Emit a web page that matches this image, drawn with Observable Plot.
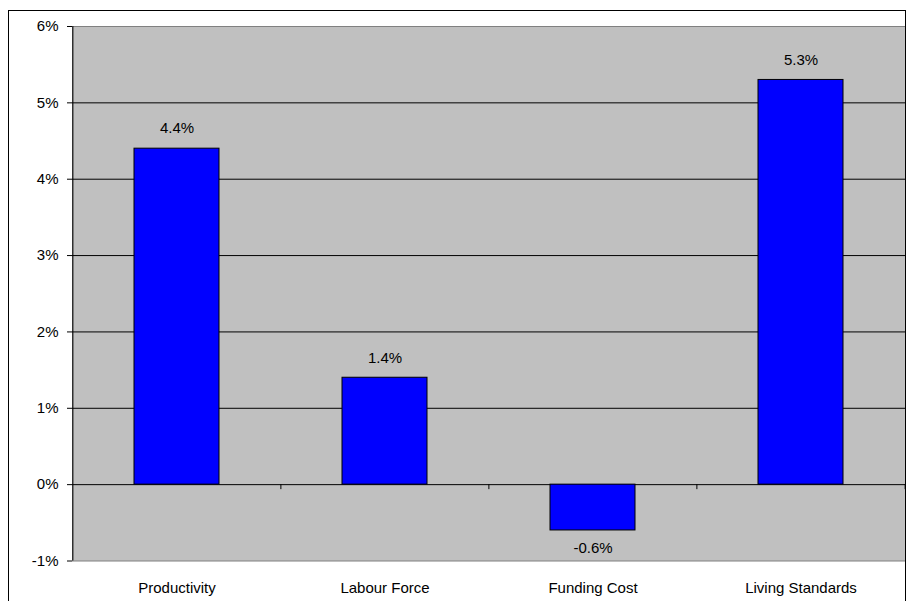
<!DOCTYPE html>
<html>
<head>
<meta charset="utf-8">
<script src="https://cdn.jsdelivr.net/npm/d3@7"></script>
<script src="https://cdn.jsdelivr.net/npm/@observablehq/plot@0.6"></script>
<style>
  html, body { margin: 0; padding: 0; background: #fff; }
  #wrap { position: relative; width: 907px; height: 601px; overflow: hidden; }
  #border { position: absolute; left: 8px; top: 10px; width: 898px; height: 700px; border: 1px solid #000; box-sizing: border-box; pointer-events: none; }
</style>
</head>
<body>
<div id="wrap"><div id="chart"></div><div id="border"></div></div>
<script>
const categories = ["Productivity", "Labour Force", "Funding Cost", "Living Standards"];
const values = [4.4, 1.4, -0.6, 5.3];
const yTicks = [-1, 0, 1, 2, 3, 4, 5, 6];

const data = categories.map((c, i) => ({category: c, value: values[i]}));

const W = 907, H = 601, mL = 72, mR = 2, mT = 26, mB = 40.5;
const step = (W - mL - mR) / categories.length;
const font = "'Liberation Sans', Arial, sans-serif";
const fmt = d => d.value.toFixed(1) + "%";

const chart = Plot.plot({
  width: W,
  height: H,
  marginLeft: mL,
  marginRight: mR,
  marginTop: mT,
  marginBottom: mB,
  style: {fontFamily: font, fontSize: "15px", color: "#000", background: "transparent"},
  x: {domain: categories, paddingInner: 0.59, paddingOuter: 0.295, label: null},
  y: {domain: [-1, 6], label: null},
  marks: [
    Plot.frame({fill: "#C0C0C0", stroke: "#808080", strokeWidth: 1}),
    Plot.ruleY(yTicks.filter(t => t > -1 && t < 6), {stroke: "#000", strokeWidth: 1}),
    Plot.barY(data, {x: "category", y: "value", fill: "#0000FF", stroke: "#000", strokeWidth: 1}),
    Plot.text(data.filter(d => d.value >= 0), {x: "category", y: "value", text: fmt, dy: -20, fill: "#000", fontSize: 15}),
    Plot.text(data.filter(d => d.value < 0), {x: "category", y: "value", text: fmt, dy: 18, fill: "#000", fontSize: 15}),
    // x-axis category boundary ticks on the zero line
    Plot.ruleX(categories.slice(1), {x: d => d, dx: -step / 2, y1: 0, y2: 0, insetBottom: -5, stroke: "#000"}),
    Plot.ruleX(categories.slice(-1), {x: d => d, dx: step / 2, y1: 0, y2: 0, insetBottom: -5, stroke: "#000"}),
    // left axis line
    Plot.ruleX(categories.slice(0, 1), {x: d => d, dx: -step / 2, y1: -1, y2: 6, stroke: "#000"}),
    Plot.axisY({ticks: yTicks, tickSize: 5, tickPadding: 9, tickFormat: d => d + "%", stroke: "#000", fill: "#000", fontSize: 15}),
    Plot.axisX({tickSize: 0, tickPadding: 21, fill: "#000", fontSize: 15})
  ]
});
document.getElementById("chart").appendChild(chart);
</script>
</body>
</html>
